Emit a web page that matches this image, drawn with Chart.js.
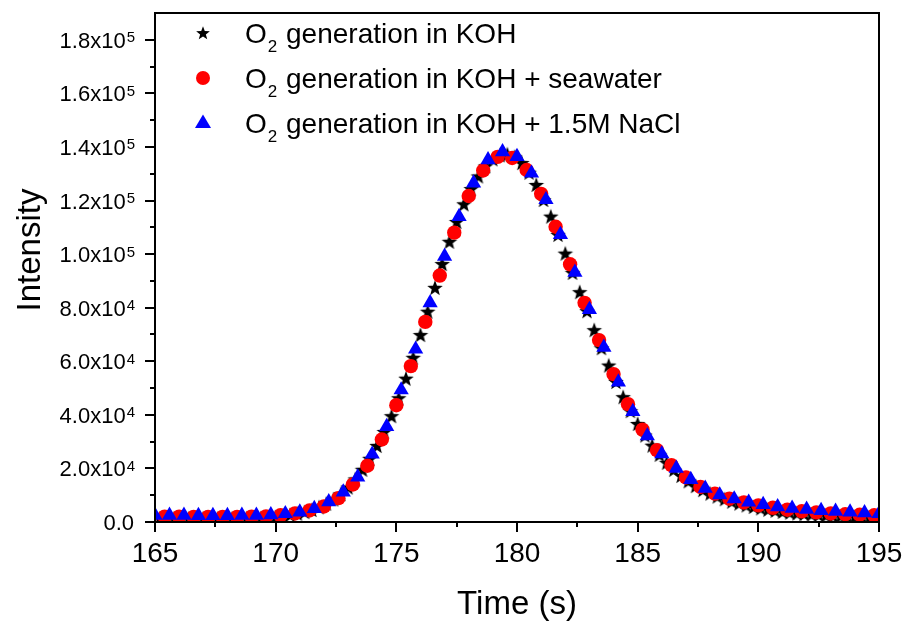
<!DOCTYPE html>
<html>
<head>
<meta charset="utf-8">
<script src="https://cdn.jsdelivr.net/npm/chart.js@4.4.1/dist/chart.umd.min.js"></script>
<style>
  html, body { margin: 0; padding: 0; background: #fff; }
  canvas { display: block; }
</style>
</head>
<body>
<canvas id="chart" width="909" height="623"></canvas>
<script>
const FONT = "Arial, 'Liberation Sans', sans-serif";

// O2 generation in KOH (black stars)
const kohTime = [165.2, 165.5, 165.8, 166.1, 166.4, 166.7, 167.0, 167.3, 167.6, 167.9,
  168.2, 168.5, 168.8, 169.1, 169.4, 169.7, 170.0, 170.3, 170.6, 170.9,
  171.2, 171.5, 171.8, 172.1, 172.4, 172.7, 173.0, 173.3, 173.6, 173.9,
  174.2, 174.5, 174.8, 175.1, 175.4, 175.7, 176.0, 176.3, 176.6, 176.9,
  177.2, 177.5, 177.8, 178.1, 178.4, 178.7, 179.0, 179.3, 179.6, 179.9,
  180.2, 180.5, 180.8, 181.1, 181.4, 181.7, 182.0, 182.3, 182.6, 182.9,
  183.2, 183.5, 183.8, 184.1, 184.4, 184.7, 185.0, 185.3, 185.6, 185.9,
  186.2, 186.5, 186.8, 187.1, 187.4, 187.7, 188.0, 188.3, 188.6, 188.9,
  189.2, 189.5, 189.8, 190.1, 190.4, 190.7, 191.0, 191.3, 191.6, 191.9,
  192.2, 192.5, 192.8, 193.1, 193.4, 193.7, 194.0, 194.3, 194.6, 194.9];
const kohIntensity = [1300, 1300, 1300, 1300, 1300, 1300, 1300, 1300, 1300, 1300,
  1300, 1300, 1400, 1400, 1500, 1700, 1900, 2200, 2600, 3100,
  3700, 4500, 5500, 6800, 8400, 10400, 12900, 15900, 19500, 23600,
  28400, 33600, 39500, 46200, 53500, 61300, 69800, 78500, 87400, 96300,
  104600, 112000, 118600, 124300, 129000, 132800, 135400, 136900, 137200, 136300,
  134000, 130400, 125800, 120200, 114000, 107200, 100200, 93000, 85800, 78700,
  71600, 64900, 58400, 52300, 46600, 41400, 36600, 32300, 28500, 25100,
  22100, 19500, 17200, 15200, 13400, 11900, 10600, 9500, 8500, 7600,
  6900, 6200, 5600, 5100, 4600, 4200, 3800, 3500, 3200, 3000,
  2800, 2600, 2400, 2200, 2100, 2000, 1900, 1800, 1700, 1600];

// O2 generation in KOH + seawater (red circles)
const seaTime = [164.8, 165.4, 166.0, 166.6, 167.2, 167.8, 168.4, 169.0, 169.6, 170.2,
  170.8, 171.4, 172.0, 172.6, 173.2, 173.8, 174.4, 175.0, 175.6, 176.2,
  176.8, 177.4, 178.0, 178.6, 179.2, 179.8, 180.4, 181.0, 181.6, 182.2,
  182.8, 183.4, 184.0, 184.6, 185.2, 185.8, 186.4, 187.0, 187.6, 188.2,
  188.8, 189.4, 190.0, 190.6, 191.2, 191.8, 192.4, 193.0, 193.6, 194.2, 194.8];
const seaIntensity = [2000, 2000, 2000, 1900, 1900, 1900, 1900, 2000, 2100, 2500,
  3200, 4300, 5800, 8900, 14000, 21000, 30800, 43600, 58200, 74700,
  92000, 108000, 121700, 131200, 136300, 135900, 131400, 122500, 110200, 96200,
  81800, 67900, 55200, 44000, 34500, 26800, 21200, 16600, 13100, 10600,
  8700, 7300, 6200, 5300, 4600, 4000, 3600, 3200, 2900, 2700, 2500];

// O2 generation in KOH + 1.5M NaCl (blue triangles)
const naclTime = [165.0, 165.6, 166.2, 166.8, 167.4, 168.0, 168.6, 169.2, 169.8, 170.4,
  171.0, 171.6, 172.2, 172.8, 173.4, 174.0, 174.6, 175.2, 175.8, 176.4,
  177.0, 177.6, 178.2, 178.8, 179.4, 180.0, 180.6, 181.2, 181.8, 182.4,
  183.0, 183.6, 184.2, 184.8, 185.4, 186.0, 186.6, 187.2, 187.8, 188.4,
  189.0, 189.6, 190.2, 190.8, 191.4, 192.0, 192.6, 193.2, 193.8, 194.4, 195.0];
const naclIntensity = [2500, 2500, 2500, 2400, 2400, 2400, 2500, 2500, 2700, 3100,
  3700, 5000, 7500, 11200, 16800, 25300, 35600, 49300, 64500, 81800,
  99200, 114000, 126500, 135200, 138200, 136400, 130200, 120300, 107300, 93200,
  79300, 65200, 52200, 41200, 32200, 25400, 20000, 15800, 12600, 10100,
  8600, 7400, 6500, 5700, 5100, 4700, 4300, 4000, 3700, 3400, 3100];

const seriesNames = ['generation in KOH', 'generation in KOH + seawater', 'generation in KOH + 1.5M NaCl'];

const xMajorTicks = [165, 170, 175, 180, 185, 190, 195];
const xMinorTicks = [167.5, 172.5, 177.5, 182.5, 187.5, 192.5];
const yMajorTicks = [0, 20000, 40000, 60000, 80000, 100000, 120000, 140000, 160000, 180000];
const yMinorTicks = [10000, 30000, 50000, 70000, 90000, 110000, 130000, 150000, 170000];
const yTickMantissa = ['0.0', '2.0x10', '4.0x10', '6.0x10', '8.0x10', '1.0x10', '1.2x10', '1.4x10', '1.6x10', '1.8x10'];
const yTickExponent = ['', '4', '4', '4', '4', '5', '5', '5', '5', '5'];

// filled five-point star used as point style
function makeStar(size, outer, inner) {
  const c = document.createElement('canvas');
  c.width = size; c.height = size;
  const g = c.getContext('2d');
  const cx = size / 2, cy = size / 2 + 0.5;
  g.beginPath();
  for (let i = 0; i < 10; i++) {
    const r = i % 2 === 0 ? outer : inner;
    const a = -Math.PI / 2 + i * Math.PI / 5;
    const px = cx + r * Math.cos(a), py = cy + r * Math.sin(a);
    if (i === 0) g.moveTo(px, py); else g.lineTo(px, py);
  }
  g.closePath();
  g.fillStyle = '#000';
  g.fill();
  return c;
}
const starImg = makeStar(18, 8.2, 3.4);
const legendStar = makeStar(16, 7.2, 3.0);

function toPoints(xs, ys) {
  return xs.map((x, i) => ({ x: x, y: ys[i] }));
}

const axisDecor = {
  id: 'axisDecor',
  afterDatasetsDraw(chart) {
    const ctx = chart.ctx;
    const area = chart.chartArea;
    const xs = chart.scales.x, ys = chart.scales.y;
    ctx.save();
    ctx.strokeStyle = '#000';
    ctx.lineWidth = 2;
    ctx.strokeRect(area.left, area.top, area.right - area.left, area.bottom - area.top);

    ctx.beginPath();
    xMajorTicks.forEach(v => {
      const px = Math.round(xs.getPixelForValue(v));
      ctx.moveTo(px, area.bottom); ctx.lineTo(px, area.bottom + 10);
    });
    xMinorTicks.forEach(v => {
      const px = Math.round(xs.getPixelForValue(v));
      ctx.moveTo(px, area.bottom); ctx.lineTo(px, area.bottom + 5);
    });
    yMajorTicks.forEach(v => {
      const py = Math.round(ys.getPixelForValue(v));
      ctx.moveTo(area.left, py); ctx.lineTo(area.left - 10, py);
    });
    yMinorTicks.forEach(v => {
      const py = Math.round(ys.getPixelForValue(v));
      ctx.moveTo(area.left, py); ctx.lineTo(area.left - 5, py);
    });
    ctx.stroke();

    ctx.fillStyle = '#000';
    // x tick labels
    ctx.font = '28px ' + FONT;
    ctx.textAlign = 'center';
    ctx.textBaseline = 'alphabetic';
    xMajorTicks.forEach(v => {
      ctx.fillText(String(v), xs.getPixelForValue(v), 562);
    });

    // y tick labels with superscript exponent
    ctx.textAlign = 'left';
    yMajorTicks.forEach((v, i) => {
      const py = ys.getPixelForValue(v);
      ctx.font = '22px ' + FONT;
      const wm = ctx.measureText(yTickMantissa[i]).width;
      ctx.font = '15px ' + FONT;
      const we = ctx.measureText(yTickExponent[i]).width;
      const x0 = 134 - wm - we;
      ctx.font = '22px ' + FONT;
      ctx.fillText(yTickMantissa[i], x0, py + 8);
      if (yTickExponent[i]) {
        ctx.font = '15px ' + FONT;
        ctx.fillText(yTickExponent[i], x0 + wm + 1, py + 2.5);
      }
    });

    // axis titles
    ctx.font = '33px ' + FONT;
    ctx.textAlign = 'center';
    ctx.fillText('Time (s)', (area.left + area.right) / 2, 614);
    ctx.save();
    ctx.translate(40, 250);
    ctx.rotate(-Math.PI / 2);
    ctx.fillText('Intensity', 0, 0);
    ctx.restore();

    // legend
    const rows = [33, 78, 123];
    ctx.drawImage(legendStar, 203 - legendStar.width / 2, rows[0] - legendStar.height / 2);
    ctx.fillStyle = '#ff0000';
    ctx.beginPath();
    ctx.arc(203, rows[1], 7, 0, Math.PI * 2);
    ctx.fill();
    ctx.fillStyle = '#0000ff';
    ctx.beginPath();
    ctx.moveTo(203, rows[2] - 8.5);
    ctx.lineTo(203 + 8, rows[2] + 5);
    ctx.lineTo(203 - 8, rows[2] + 5);
    ctx.closePath();
    ctx.fill();

    ctx.fillStyle = '#000';
    ctx.textAlign = 'left';
    rows.forEach((ry, i) => {
      const base = ry + 10;
      ctx.font = '28px ' + FONT;
      ctx.fillText('O', 245, base);
      const wO = ctx.measureText('O').width;
      ctx.font = '17px ' + FONT;
      ctx.fillText('2', 245 + wO + 1, base + 9);
      const w2 = ctx.measureText('2').width;
      ctx.font = '28px ' + FONT;
      ctx.fillText(' ' + seriesNames[i], 245 + wO + w2 + 2, base);
    });
    ctx.restore();
  }
};

new Chart(document.getElementById('chart').getContext('2d'), {
  type: 'scatter',
  data: {
    datasets: [
      {
        label: 'O2 generation in KOH',
        data: toPoints(kohTime, kohIntensity),
        pointStyle: starImg,
        pointRadius: 9,
        backgroundColor: '#000',
        borderWidth: 0,
        clip: 0,
        order: 3
      },
      {
        label: 'O2 generation in KOH + seawater',
        data: toPoints(seaTime, seaIntensity),
        pointStyle: 'circle',
        pointRadius: 7.2,
        backgroundColor: '#ff0000',
        borderWidth: 0,
        clip: 0,
        order: 2
      },
      {
        label: 'O2 generation in KOH + 1.5M NaCl',
        data: toPoints(naclTime, naclIntensity),
        pointStyle: 'triangle',
        pointRadius: 8.8,
        backgroundColor: '#0000ff',
        borderWidth: 0,
        clip: 0,
        order: 1
      }
    ]
  },
  options: {
    responsive: false,
    animation: false,
    layout: { padding: { left: 155, top: 13, right: 30, bottom: 101 } },
    scales: {
      x: { type: 'linear', min: 165, max: 195, display: false },
      y: { type: 'linear', min: 0, max: 190000, display: false }
    },
    plugins: {
      legend: { display: false },
      tooltip: { enabled: false }
    }
  },
  plugins: [axisDecor]
});
</script>
</body>
</html>
